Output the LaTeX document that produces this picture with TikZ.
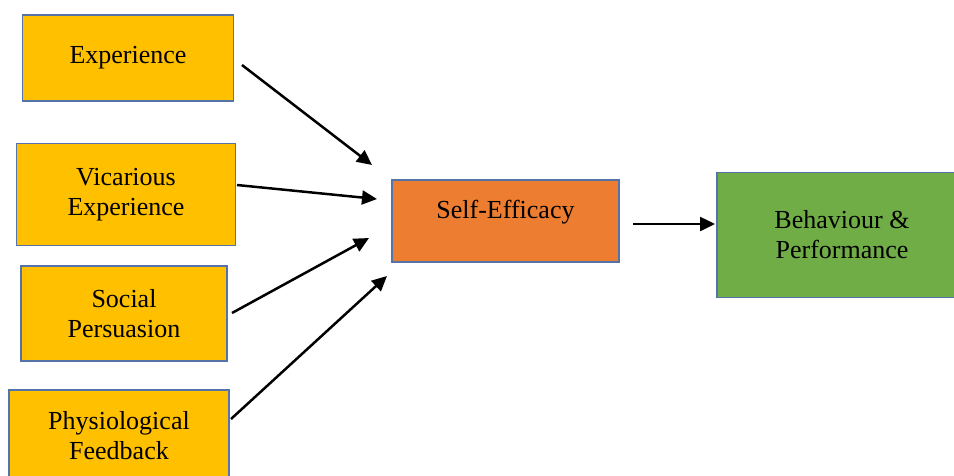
\documentclass[tikz,border=0pt]{standalone}
\usepackage{fontspec}
\setmainfont{Liberation Serif}
\usetikzlibrary{arrows.meta}
\definecolor{gold}{HTML}{FFC000}
\definecolor{orng}{HTML}{ED7D31}
\definecolor{grn}{HTML}{70AD47}
\definecolor{edge}{HTML}{5573A8}
\begin{document}
\begin{tikzpicture}[x=1pt,y=-1pt,
  txt/.style={font=\fontsize{26}{30}\selectfont,align=center},
  box/.style={draw=edge,line width=1.8pt,inner sep=0pt,txt},
  arr/.style={line width=2.5pt,-{Triangle[length=15pt,width=14pt]}}]
\useasboundingbox[fill=white] (0,0) rectangle (954,475);
\node[box,fill=gold,minimum width=211pt,minimum height=86pt] (exp) at (128,58) {Experience};
\node[box,fill=gold,minimum width=219pt,minimum height=102pt] (vic) at (126,194.5) {Vicarious\\Experience};
\node[box,fill=gold,minimum width=206pt,minimum height=95pt] (soc) at (124,313.5) {Social\\Persuasion};
\node[box,fill=gold,minimum width=220pt,minimum height=120pt] (phy) at (119,450) {};
\node[txt] (phyt) at (119,436) {Physiological\\Feedback};
\node[box,fill=orng,minimum width=227pt,minimum height=82pt] (se) at (505.5,221) {};
\node[txt] (set) at (505.5,212) {Self-Efficacy};
\node[box,fill=grn,minimum width=250pt,minimum height=125pt] (bp) at (842,235) {Behaviour \&\\Performance};
\coordinate (a1s) at (242,65); \coordinate (a1e) at (372,165);
\coordinate (a2s) at (237,185); \coordinate (a2e) at (377,199);
\coordinate (a3s) at (232,313); \coordinate (a3e) at (369,238);
\coordinate (a4s) at (231,419); \coordinate (a4e) at (387,276);
\coordinate (a5s) at (633,224); \coordinate (a5e) at (715,224);
\draw[arr] (a1s) -- (a1e);
\draw[arr] (a2s) -- (a2e);
\draw[arr] (a3s) -- (a3e);
\draw[arr] (a4s) -- (a4e);
\draw[arr] (a5s) -- (a5e);
\end{tikzpicture}
\end{document}
